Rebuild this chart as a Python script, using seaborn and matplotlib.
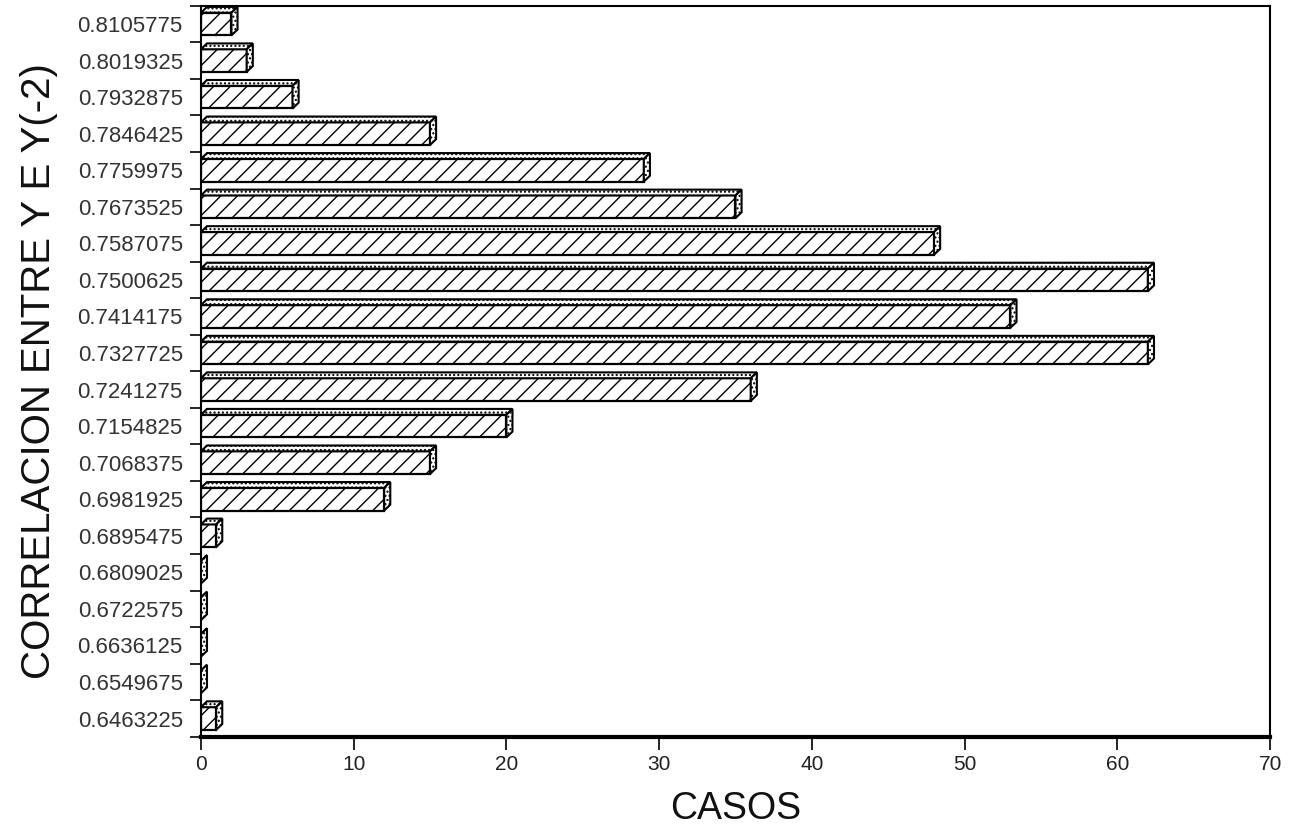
"""Histogram of Y / Y(-2) correlation, hatched horizontal bars with a fake 3D edge."""

import matplotlib

matplotlib.use("Agg")
import matplotlib.pyplot as plt
import pandas as pd
import seaborn as sns
from matplotlib.patches import Polygon

# class marks, top to bottom as drawn
CLASES = [
    "0.8105775", "0.8019325", "0.7932875", "0.7846425", "0.7759975",
    "0.7673525", "0.7587075", "0.7500625", "0.7414175", "0.7327725",
    "0.7241275", "0.7154825", "0.7068375", "0.6981925", "0.6895475",
    "0.6809025", "0.6722575", "0.6636125", "0.6549675", "0.6463225",
]
CASOS = [2, 3, 6, 15, 29, 35, 48, 62, 53, 62, 36, 20, 15, 12, 1, 0, 0, 0, 0, 1]
X_TICKS = [0, 10, 20, 30, 40, 50, 60, 70]

sns.set_theme(style="white")
plt.rcParams["font.family"] = ["Liberation Sans", "DejaVu Sans"]
plt.rcParams["hatch.linewidth"] = 1.0

df = pd.DataFrame({"clase": CLASES, "casos": CASOS})

fig = plt.figure(figsize=(12.96, 8.26), dpi=100)
ax = fig.add_axes([0.155, 0.108, 0.825, 0.885])

sns.barplot(
    data=df,
    y="clase",
    x="casos",
    order=CLASES,
    orient="h",
    color="white",
    edgecolor="black",
    linewidth=1.6,
    width=0.62,
    saturation=1,
    ax=ax,
)

# depth faces (top strip + right side) following each bar
DX, DY = 0.4, 0.16
for p in ax.patches:
    p.set_hatch("//")
    p.set_facecolor("white")
    x0, x1 = p.get_x(), p.get_x() + p.get_width()
    yt, yb = p.get_y(), p.get_y() + p.get_height()
    top = Polygon(
        [(x0, yt), (x0 + DX, yt - DY), (x1 + DX, yt - DY), (x1, yt)],
        closed=True, facecolor="white", edgecolor="black", lw=1.5, hatch="....",
    )
    side = Polygon(
        [(x1, yt), (x1 + DX, yt - DY), (x1 + DX, yb - DY), (x1, yb)],
        closed=True, facecolor="white", edgecolor="black", lw=1.5, hatch="....",
    )
    ax.add_patch(top)
    ax.add_patch(side)

ax.set_xlim(0, 70)
ax.set_ylim(len(CLASES) - 0.5, -0.5)
ax.set_xticks(X_TICKS)
ax.set_xticklabels([str(t) for t in X_TICKS], fontsize=15, color="#222222")
ax.set_yticks(range(len(CLASES)))
ax.set_yticklabels(CLASES, fontsize=16, color="#333333")
ax.set_yticks([i - 0.5 for i in range(len(CLASES) + 1)], minor=True)
ax.tick_params(axis="y", which="major", length=0, pad=13)
ax.tick_params(axis="y", which="minor", length=8, width=1.2, color="black", direction="out", left=True)
ax.tick_params(axis="x", length=9, width=1.2, color="black", direction="out", bottom=True, pad=4)

for sp in ax.spines.values():
    sp.set_visible(True)
    sp.set_color("black")
    sp.set_linewidth(1.5)
ax.spines["bottom"].set_linewidth(3.0)

ax.set_xlabel("CASOS", fontsize=27, labelpad=12, color="#111111")
ax.set_ylabel("CORRELACION ENTRE Y E Y(-2)", fontsize=29, labelpad=14, color="#111111")
ax.grid(False)

fig.savefig("out.png", dpi=100)
plt.close(fig)
